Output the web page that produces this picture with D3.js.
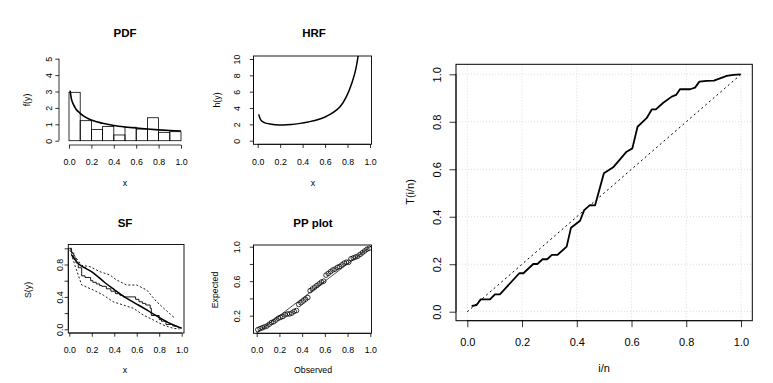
<!DOCTYPE html>
<html>
<head>
<meta charset="utf-8">
<script src="https://cdn.jsdelivr.net/npm/d3@7"></script>
<style>
  html, body { margin: 0; padding: 0; background: #fff; }
  svg { display: block; font-family: "Liberation Sans", Arial, Helvetica, sans-serif; }
</style>
</head>
<body>
<div id="chart"></div>
<script>
// ---- data ----
const unitTicks = [0, 0.2, 0.4, 0.6, 0.8, 1.0];

// PDF panel
const pdfBreaks = [0, 0.1, 0.2, 0.3, 0.4, 0.5, 0.6, 0.7, 0.8, 0.9, 1.0];
const pdfDensity = [2.95, 1.22, 0.69, 0.87, 0.35, 0.82, 0.71, 1.40, 0.51, 0.55];
const pdfCurveX = [0.01, 0.02, 0.04, 0.06, 0.1, 0.15, 0.2, 0.3, 0.4, 0.5, 0.6, 0.7, 0.8, 0.9, 1.0];
const pdfCurveY = [3.05, 2.6, 2.2, 1.95, 1.67, 1.42, 1.26, 1.06, 0.93, 0.84, 0.77, 0.71, 0.66, 0.62, 0.59];
const pdfYTicks = [0, 1, 2, 3, 4, 5];

// HRF panel
const hrfX = [0.009, 0.02, 0.036, 0.06, 0.08, 0.12, 0.154, 0.23, 0.3, 0.377, 0.45, 0.525, 0.6, 0.644, 0.7, 0.733, 0.79, 0.837, 0.875, 0.896, 0.91];
const hrfY = [3.22, 2.75, 2.4, 2.22, 2.12, 2.02, 1.96, 1.92, 1.98, 2.12, 2.3, 2.53, 2.9, 3.22, 3.75, 4.16, 5.39, 7.0, 8.86, 10.5, 11.8];
const hrfYTicks = [0, 2, 4, 6, 8, 10];

// SF panel
const sfFitX = [0.021, 0.05, 0.095, 0.15, 0.2, 0.318, 0.4, 0.466, 0.55, 0.614, 0.7, 0.762, 0.881, 0.95, 1.0];
const sfFitY = [0.917, 0.86, 0.794, 0.75, 0.71, 0.575, 0.49, 0.423, 0.35, 0.3, 0.23, 0.177, 0.082, 0.04, 0.012];
const sfKmX = [0.0, 0.02, 0.04, 0.06, 0.08, 0.11, 0.14, 0.19, 0.21, 0.24, 0.27, 0.29, 0.33, 0.37, 0.41, 0.45, 0.48, 0.59, 0.62, 0.65, 0.68, 0.72, 0.73, 0.8, 0.82, 0.86, 0.92, 0.95];
const sfKmY = [1.0, 0.94, 0.88, 0.82, 0.76, 0.66, 0.64, 0.6, 0.58, 0.56, 0.54, 0.53, 0.5, 0.47, 0.44, 0.42, 0.4, 0.37, 0.34, 0.32, 0.3, 0.26, 0.17, 0.12, 0.1, 0.06, 0.04, 0.04];
const sfUpperX = [0.006, 0.05, 0.11, 0.184, 0.273, 0.362, 0.42, 0.51, 0.6, 0.689, 0.777, 0.867, 0.94];
const sfUpperY = [1.0, 0.9, 0.79, 0.773, 0.711, 0.67, 0.61, 0.547, 0.547, 0.485, 0.34, 0.226, 0.136];
const sfLowerX = [0.006, 0.05, 0.11, 0.214, 0.302, 0.39, 0.48, 0.57, 0.658, 0.747, 0.836, 0.925, 0.98];
const sfLowerY = [0.98, 0.79, 0.547, 0.485, 0.423, 0.34, 0.3, 0.26, 0.177, 0.115, 0.053, 0.012, 0.005];
const sfYTicks = [0, 0.2, 0.4, 0.6, 0.8, 1.0];
const sfYLabels = ["0.0", "", "0.4", "", "0.8", ""];

// PP plot panel
const ppObserved = [0.01, 0.03, 0.05, 0.07, 0.09, 0.11, 0.13, 0.15, 0.17, 0.19,
                    0.21, 0.23, 0.25, 0.27, 0.29, 0.31, 0.33, 0.35, 0.37, 0.39,
                    0.41, 0.43, 0.45, 0.47, 0.49, 0.51, 0.53, 0.55, 0.57, 0.59,
                    0.61, 0.63, 0.65, 0.67, 0.69, 0.71, 0.73, 0.75, 0.77, 0.79,
                    0.81, 0.83, 0.85, 0.87, 0.89, 0.91, 0.93, 0.95, 0.97, 0.99];
const ppExpected = [0.038, 0.05, 0.06, 0.07, 0.08, 0.10, 0.12, 0.13, 0.15, 0.17,
                    0.18, 0.19, 0.21, 0.22, 0.22, 0.23, 0.25, 0.26, 0.33, 0.35,
                    0.37, 0.39, 0.41, 0.49, 0.51, 0.53, 0.55, 0.57, 0.59, 0.60,
                    0.67, 0.69, 0.71, 0.73, 0.74, 0.76, 0.77, 0.79, 0.81, 0.82,
                    0.82, 0.86, 0.87, 0.88, 0.89, 0.91, 0.93, 0.95, 0.97, 0.982];
const ppYTicks = [0.2, 0.4, 0.6, 0.8, 1.0];
const ppYLabels = ["0.2", "", "0.6", "", "1.0"];

// TTT plot
const tttX = [0.016, 0.034, 0.049, 0.083, 0.101, 0.119, 0.19, 0.205, 0.241, 0.256, 0.275, 0.292, 0.309, 0.329, 0.363, 0.379, 0.412, 0.427, 0.448, 0.467, 0.499, 0.533, 0.582, 0.603, 0.622, 0.655, 0.674, 0.689, 0.716, 0.747, 0.763, 0.777, 0.814, 0.832, 0.848, 0.875, 0.901, 0.948, 0.972, 0.999];
const tttY = [0.024, 0.028, 0.052, 0.052, 0.073, 0.073, 0.162, 0.162, 0.201, 0.201, 0.221, 0.221, 0.239, 0.239, 0.274, 0.354, 0.383, 0.428, 0.449, 0.448, 0.583, 0.608, 0.674, 0.688, 0.779, 0.815, 0.852, 0.852, 0.880, 0.906, 0.913, 0.937, 0.937, 0.944, 0.969, 0.972, 0.973, 0.993, 0.998, 1.0];

// ---- drawing ----
const W = 773, H = 383;
const svg = d3.select("#chart").append("svg").attr("width", W).attr("height", H);

const fmt1 = d3.format(".1f");
const smallFont = 8.8, titleFont = 11.5, bigFont = 11;

function zip(xs, ys) { return xs.map((x, i) => [x, ys[i]]); }

// x axis R-style: line from first to last tick, ticks down
function xAxis(g, xs, y0, ticks, tickLen, labelY, fontSize) {
    const ax = g.append("g").attr("transform", "translate(0," + y0 + ")")
        .call(d3.axisBottom(xs).tickValues(ticks).tickSize(tickLen).tickFormat(fmt1));
    ax.select(".domain").remove();
    ax.append("line").attr("x1", xs(ticks[0])).attr("x2", xs(ticks[ticks.length - 1]))
        .attr("stroke", "#000").attr("stroke-width", 0.8);
    ax.selectAll(".tick line").attr("stroke-width", 0.8);
    ax.selectAll(".tick text").attr("y", labelY - y0).attr("dy", "0.35em")
        .attr("font-size", fontSize).attr("font-family", null).attr("fill", "#000");
}

function yAxis(g, ys, x0, ticks, labels, tickLen, labelX, fontSize) {
    const ax = g.append("g").attr("transform", "translate(" + x0 + ",0)")
        .call(d3.axisLeft(ys).tickValues(ticks).tickSize(tickLen)
            .tickFormat((d, i) => labels[i]));
    ax.select(".domain").remove();
    ax.append("line").attr("y1", ys(ticks[0])).attr("y2", ys(ticks[ticks.length - 1]))
        .attr("stroke", "#000").attr("stroke-width", 0.8);
    ax.selectAll(".tick line").attr("stroke-width", 0.8);
    ax.selectAll(".tick text")
        .attr("x", null).attr("dy", null)
        .attr("transform", "translate(" + (labelX - x0) + ",0) rotate(-90)")
        .attr("text-anchor", "middle").attr("dominant-baseline", "central")
        .attr("font-size", fontSize).attr("font-family", null).attr("fill", "#000");
}

function label(x, y, text, size, opts) {
    opts = opts || {};
    const t = svg.append("text").attr("x", x).attr("y", y)
        .attr("text-anchor", "middle").attr("dominant-baseline", "central")
        .attr("font-size", size).text(text);
    if (opts.bold) t.attr("font-weight", "bold");
    if (opts.rotate) t.attr("transform", "rotate(-90," + x + "," + y + ")");
    return t;
}

function box(g, b, w) {
    g.append("rect").attr("x", b[0]).attr("y", b[2]).attr("width", b[1] - b[0]).attr("height", b[3] - b[2])
        .attr("fill", "none").attr("stroke", "#000").attr("stroke-width", w || 0.9);
}

function clip(id, b) {
    svg.append("clipPath").attr("id", id).append("rect")
        .attr("x", b[0]).attr("y", b[2]).attr("width", b[1] - b[0]).attr("height", b[3] - b[2]);
}

// ---------- PDF ----------
{
    const x = d3.scaleLinear().domain([0, 1]).range([69, 181]);
    const y = d3.scaleLinear().domain([0, 5]).range([140.7, 58.7]);
    const g = svg.append("g");
    const bins = pdfDensity.map((d, i) => ({ x0: pdfBreaks[i], x1: pdfBreaks[i + 1], h: d }));
    g.selectAll("rect.bar").data(bins).join("rect").attr("class", "bar")
        .attr("x", d => x(d.x0)).attr("width", d => x(d.x1) - x(d.x0))
        .attr("y", d => y(d.h)).attr("height", d => y(0) - y(d.h))
        .attr("fill", "none").attr("stroke", "#000").attr("stroke-width", 0.8);
    g.append("path").datum(zip(pdfCurveX, pdfCurveY))
        .attr("d", d3.line().x(d => x(d[0])).y(d => y(d[1])).curve(d3.curveMonotoneX))
        .attr("fill", "none").attr("stroke", "#000").attr("stroke-width", 1.6);
    xAxis(g, x, 145, unitTicks, 3.7, 161.7, smallFont);
    yAxis(g, y, 59, pdfYTicks, pdfYTicks.map(String), 3.7, 49.3, smallFont);
    label(125, 33, "PDF", titleFont, { bold: true });
    label(125, 183, "x", smallFont);
    label(27, 100, "f(y)", smallFont, { rotate: true });
}

// ---------- HRF ----------
{
    const b = [253.5, 371.5, 56, 144.3];
    const x = d3.scaleLinear().domain([0, 1]).range([257.7, 370]);
    const y = d3.scaleLinear().domain([0, 10]).range([140.7, 59]);
    const g = svg.append("g");
    clip("clipHrf", b);
    g.append("path").datum(zip(hrfX, hrfY)).attr("clip-path", "url(#clipHrf)")
        .attr("d", d3.line().x(d => x(d[0])).y(d => y(d[1])).curve(d3.curveMonotoneX))
        .attr("fill", "none").attr("stroke", "#000").attr("stroke-width", 1.5);
    box(g, b);
    xAxis(g, x, b[3], unitTicks, 3.7, 161.7, smallFont);
    yAxis(g, y, b[0], hrfYTicks, hrfYTicks.map(String), 3.7, 236.7, smallFont);
    label(314, 33, "HRF", titleFont, { bold: true });
    label(313, 183, "x", smallFont);
    label(217, 100, "h(y)", smallFont, { rotate: true });
}

// ---------- SF ----------
{
    const b = [68.3, 184, 244.5, 333];
    const x = d3.scaleLinear().domain([0, 1]).range([69.3, 181.7]);
    const y = d3.scaleLinear().domain([0, 1]).range([329.3, 248.3]);
    const g = svg.append("g");
    clip("clipSf", b);
    const line = d3.line().x(d => x(d[0])).y(d => y(d[1]));
    g.append("path").datum(zip(sfUpperX, sfUpperY)).attr("clip-path", "url(#clipSf)")
        .attr("d", line).attr("fill", "none").attr("stroke", "#000")
        .attr("stroke-width", 0.9).attr("stroke-dasharray", "2,2");
    g.append("path").datum(zip(sfLowerX, sfLowerY)).attr("clip-path", "url(#clipSf)")
        .attr("d", line).attr("fill", "none").attr("stroke", "#000")
        .attr("stroke-width", 0.9).attr("stroke-dasharray", "2,2");
    g.append("path").datum(zip(sfKmX, sfKmY)).attr("clip-path", "url(#clipSf)")
        .attr("d", d3.line().x(d => x(d[0])).y(d => y(d[1])).curve(d3.curveStepAfter))
        .attr("fill", "none").attr("stroke", "#000").attr("stroke-width", 0.9);
    g.append("path").datum(zip(sfFitX, sfFitY)).attr("clip-path", "url(#clipSf)")
        .attr("d", d3.line().x(d => x(d[0])).y(d => y(d[1])).curve(d3.curveMonotoneX))
        .attr("fill", "none").attr("stroke", "#000").attr("stroke-width", 1.5);
    box(g, b);
    xAxis(g, x, b[3], unitTicks, 3.7, 350, smallFont);
    yAxis(g, y, b[0], sfYTicks, sfYLabels, 3.7, 59.5, smallFont);
    label(125, 223, "SF", titleFont, { bold: true });
    label(125, 370, "x", smallFont);
    label(28, 290, "S(y)", smallFont, { rotate: true });
}

// ---------- PP plot ----------
{
    const b = [253.5, 371.5, 245, 333.3];
    const x = d3.scaleLinear().domain([0, 1]).range([256.7, 370.3]);
    const y = d3.scaleLinear().domain([0, 1]).range([332.9, 246.7]);
    const g = svg.append("g");
    clip("clipPp", b);
    g.append("line").attr("clip-path", "url(#clipPp)")
        .attr("x1", x(-0.1)).attr("y1", y(-0.1)).attr("x2", x(1.1)).attr("y2", y(1.1))
        .attr("stroke", "#000").attr("stroke-width", 0.7);
    g.selectAll("circle").data(zip(ppObserved, ppExpected)).join("circle")
        .attr("cx", d => x(d[0])).attr("cy", d => y(d[1])).attr("r", 2.3)
        .attr("fill", "none").attr("stroke", "#000").attr("stroke-width", 0.8);
    box(g, b);
    xAxis(g, x, b[3], unitTicks, 3.7, 350, smallFont);
    yAxis(g, y, b[0], ppYTicks, ppYLabels, 3.7, 236.7, smallFont);
    label(313, 223, "PP plot", titleFont, { bold: true });
    label(313, 370, "Observed", smallFont);
    label(215, 290, "Expected", smallFont, { rotate: true });
}

// ---------- TTT plot ----------
{
    const b = [456, 752.3, 64.3, 320.7];
    const x = d3.scaleLinear().domain([0, 1]).range([467.3, 741]);
    const y = d3.scaleLinear().domain([0, 1]).range([311.7, 74.3]);
    const g = svg.append("g");
    // grid
    g.selectAll("line.gx").data(unitTicks).join("line").attr("class", "gx")
        .attr("x1", d => x(d)).attr("x2", d => x(d)).attr("y1", b[2]).attr("y2", b[3])
        .attr("stroke", "#d3d3d3").attr("stroke-width", 0.8).attr("stroke-dasharray", "1,2");
    g.selectAll("line.gy").data(unitTicks).join("line").attr("class", "gy")
        .attr("y1", d => y(d)).attr("y2", d => y(d)).attr("x1", b[0]).attr("x2", b[1])
        .attr("stroke", "#d3d3d3").attr("stroke-width", 0.8).attr("stroke-dasharray", "1,2");
    g.append("line").attr("x1", x(0)).attr("y1", y(0)).attr("x2", x(1)).attr("y2", y(1))
        .attr("stroke", "#000").attr("stroke-width", 1).attr("stroke-dasharray", "2,3");
    g.append("path").datum(zip(tttX, tttY))
        .attr("d", d3.line().x(d => x(d[0])).y(d => y(d[1])))
        .attr("fill", "none").attr("stroke", "#000").attr("stroke-width", 1.8)
        .attr("stroke-linejoin", "round");
    box(g, b, 1);
    xAxis(g, x, b[3], unitTicks, 6.5, 341.7, bigFont);
    yAxis(g, y, b[0], unitTicks, unitTicks.map(fmt1), 6.5, 436.7, bigFont);
    label(604, 368, "i/n", bigFont);
    label(410, 192, "T(i/n)", bigFont, { rotate: true });
}
</script>
</body>
</html>
